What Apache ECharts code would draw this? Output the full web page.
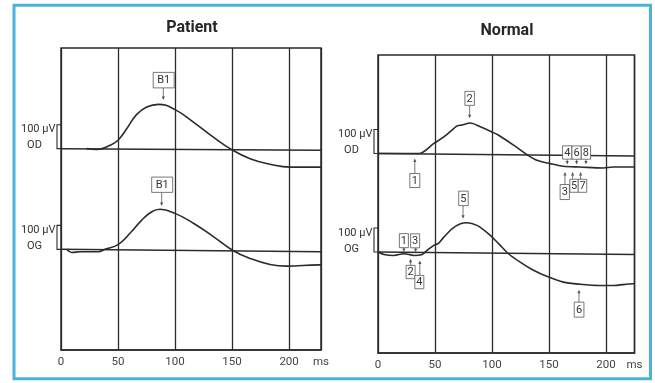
<!DOCTYPE html>
<html>
<head>
<meta charset="utf-8">
<script src="https://cdn.jsdelivr.net/npm/echarts@6/dist/echarts.min.js"></script>
<style>
  html, body { margin: 0; padding: 0; background: #ffffff; }
  #chart { width: 655px; height: 383px; }
</style>
</head>
<body>
<div id="chart"></div>
<script>
// ---- time axis ----
const timeTicks = [0, 50, 100, 150, 200];
const timeUnit = 'ms';
const ampScale = 100;          // µV calibration bar
const ampLabel = '100 µV';

// ---- Patient recordings: [ms, µV] relative to each trace's baseline ----
const patientOD = [
  [22.5, 0], [31.3, -3], [43, 14], [50, 35], [57.6, 83], [66.4, 143], [75.2, 174],
  [85.4, 185], [100, 163], [116.1, 111], [133.6, 48], [149.7, -4], [165.8, -42],
  [183.3, -65], [200.9, -77], [225.7, -77], [228, -77]
];
const patientOG = [
  [5, 0], [9.4, -13], [16.7, -10], [25.4, -10], [32.7, -10], [38.6, 0], [50.3, 21],
  [60.5, 67], [70.8, 122], [79.6, 157], [86.8, 167], [100, 150], [116.1, 109],
  [133.6, 53], [151.1, -6], [165.8, -38], [183.3, -63], [198, -70], [225.7, -65], [228, -65]
];
const patientBaseOD = [[0, 0], [228, -7]];
const patientBaseOG = [[0, 0], [228, -10]];

// ---- Normal recordings ----
const normalOD = [
  [0, 0], [35.8, 0], [49, 42], [57.7, 69], [66.4, 104], [69.3, 115], [73.7, 119],
  [81, 127], [89.8, 111], [99.9, 90], [105.8, 76], [118.9, 35], [130.5, -4],
  [139.3, -28], [151, -42], [162.6, -53], [177.2, -56], [197.6, -60], [206.3, -56],
  [223.8, -56], [225, -56]
];
const normalOG = [
  [0, 0], [5.2, -10], [14, -14], [22.7, -7], [31.5, -14], [38.7, -10], [43.1, 7],
  [49, 28], [53.3, 37], [57.7, 62], [64.9, 97], [72.3, 118], [78.1, 122], [86.8, 111],
  [97, 76], [105.8, 35], [114.5, -7], [124.7, -42], [136.4, -76], [148, -101],
  [162.6, -125], [177.2, -134], [194.7, -139], [206.3, -139], [223.8, -132], [225, -132]
];
const normalBaseOD = [[0, 0], [225, -10]];
const normalBaseOG = [[0, 0], [225, -10]];

// ---- peak markers: [label, trace, ms] ----
const patientMarks = [['B1', 'OD', 89.7], ['B1', 'OG', 88.3]];
const normalMarks = [
  ['1', 'OD', 32.3], ['2', 'OD', 80.4], ['4', 'OD', 166], ['6', 'OD', 174.2], ['8', 'OD', 182.4],
  ['3', 'OD', 164], ['5', 'OD', 170.7], ['7', 'OD', 177.7],
  ['1', 'OG', 22.7], ['3', 'OG', 33], ['2', 'OG', 28.6], ['4', 'OG', 36.7],
  ['5', 'OG', 74.6], ['6', 'OG', 176.3]
];

// marker box / arrow placement (pixels), same order as the marker lists
const patientMarkLayout = [
  { side: 'above', gap: 6, len: 12, dx: 0.4, w: 21, h: 15.5 },
  { side: 'above', gap: 3.7, len: 13.7, dx: 0.5, w: 21, h: 15.3 }
];
const normalMarkLayout = [
  { side: 'below', gap: 5, len: 15, dx: 0, w: 10, h: 14 },
  { side: 'above', gap: 4.8, len: 13, dx: 0, w: 9.5, h: 14 },
  { side: 'above', gap: 2, len: 5.3, dx: 0, w: 9.3, h: 13.3 },
  { side: 'above', gap: 2.3, len: 5.3, dx: 0, w: 9.3, h: 13.3 },
  { side: 'above', gap: 2.7, len: 5.3, dx: 0, w: 9.3, h: 13.3 },
  { side: 'below', gap: 5.6, len: 12.6, dx: -0.2, w: 9.3, h: 15 },
  { side: 'below', gap: 5.3, len: 7.3, dx: 1.5, w: 8.5, h: 13 },
  { side: 'below', gap: 5, len: 7.3, dx: 1.9, w: 8.5, h: 13 },
  { side: 'above', gap: 1.7, len: 4.4, dx: 0, w: 9, h: 14 },
  { side: 'above', gap: 3, len: 4.4, dx: -0.5, w: 9, h: 14 },
  { side: 'below', gap: 3.8, len: 6.7, dx: 0, w: 9, h: 13.3 },
  { side: 'below', gap: 5.7, len: 15, dx: -0.5, w: 9, h: 13.3 },
  { side: 'above', gap: 4.7, len: 13, dx: 0.4, w: 9.5, h: 14.5 },
  { side: 'below', gap: 5.6, len: 12.4, dx: 0.1, w: 9.7, h: 15 }
];

const INK = '#2b2b2b';
const FONT = 'Roboto, "DejaVu Sans", sans-serif';

const panels = [
  {
    title: 'Patient', titleX: 192, titleTop: 19.5,
    traces: { OD: patientOD, OG: patientOG },
    bases: { OD: patientBaseOD, OG: patientBaseOG },
    marks: patientMarks, markLayout: patientMarkLayout,
    xMax: 228, yMin: -420, yMax: 840, offsets: { OD: 420, OG: 0 },
    grid: { left: 61, top: 48, width: 260, height: 302 }, smooth: 0.45
  },
  {
    title: 'Normal', titleX: 507, titleTop: 22.5,
    traces: { OD: normalOD, OG: normalOG },
    bases: { OD: normalBaseOD, OG: normalBaseOG },
    marks: normalMarks, markLayout: normalMarkLayout,
    xMax: 225, yMin: -420, yMax: 820, offsets: { OD: 410, OG: 0 },
    grid: { left: 378, top: 55, width: 256.5, height: 298 }, smooth: 0.3
  }
];

function valueAt(trace, t) {
  if (t <= trace[0][0]) return trace[0][1];
  for (let i = 1; i < trace.length; i++) {
    if (t <= trace[i][0]) {
      const [t0, v0] = trace[i - 1];
      const [t1, v1] = trace[i];
      return v0 + (v1 - v0) * (t - t0) / (t1 - t0);
    }
  }
  return trace[trace.length - 1][1];
}

const grids = [], xAxes = [], yAxes = [], series = [], titles = [];

panels.forEach((p, idx) => {
  grids.push(Object.assign({
    show: true, borderColor: INK, borderWidth: 1.5, backgroundColor: '#ffffff', containLabel: false
  }, p.grid));
  titles.push({
    text: p.title, left: p.titleX, top: p.titleTop, textAlign: 'center', padding: 0,
    textStyle: { fontFamily: FONT, fontSize: 16, fontWeight: 'bold', color: '#262626' }
  });
  xAxes.push({
    type: 'value', gridIndex: idx, min: 0, max: p.xMax, interval: 50,
    axisLine: { show: true, onZero: false, lineStyle: { color: INK, width: 1.5 } },
    axisTick: { show: false },
    splitLine: { show: true, lineStyle: { color: INK, width: 1.3 } },
    axisLabel: {
      margin: 6, color: '#444', fontSize: 11.5, fontFamily: FONT,
      formatter: v => (timeTicks.indexOf(v) >= 0 ? String(v) : '')
    },
    name: timeUnit, nameLocation: 'end', nameGap: 0,
    nameTextStyle: {
      align: 'center', verticalAlign: 'top', padding: [6, 0, 0, 0],
      color: '#444', fontSize: 11.5, fontFamily: FONT
    }
  });
  yAxes.push({
    type: 'value', gridIndex: idx, min: p.yMin, max: p.yMax, show: false,
    splitLine: { show: false }
  });

  ['OD', 'OG'].forEach(name => {
    const off = p.offsets[name];
    series.push({
      type: 'line', xAxisIndex: idx, yAxisIndex: idx, silent: true, symbol: 'none', z: 2,
      data: p.bases[name].map(([t, v]) => [t, v + off]),
      lineStyle: { color: '#2e2933', width: 1.5 }
    });
    series.push({
      type: 'line', xAxisIndex: idx, yAxisIndex: idx, silent: true, symbol: 'none', z: 3,
      smooth: p.smooth,
      data: p.traces[name].map(([t, v]) => [t, v + off]),
      lineStyle: { color: INK, width: 1.6 }
    });
  });

  // calibration brackets with trace names
  series.push({
    type: 'custom', xAxisIndex: idx, yAxisIndex: idx, clip: false, silent: true, z: 4,
    data: ['OD', 'OG'].map(n => [0, p.offsets[n], p.offsets[n] + ampScale]),
    renderItem(params, api) {
      const name = ['OD', 'OG'][params.dataIndex];
      const b = api.coord([api.value(0), api.value(1)]);
      const t = api.coord([api.value(0), api.value(2)]);
      const bx = b[0] - 4;
      return {
        type: 'group',
        children: [
          {
            type: 'polyline',
            shape: { points: [[b[0], t[1]], [bx, t[1]], [bx, b[1]], [b[0], b[1]]] },
            style: { stroke: INK, lineWidth: 1.1, fill: null }
          },
          {
            type: 'text',
            style: {
              text: ampLabel, x: bx - 1.5, y: t[1] + 5, align: 'right', verticalAlign: 'middle',
              fontSize: 11, fontFamily: FONT, fill: '#333'
            }
          },
          {
            type: 'text',
            style: {
              text: name, x: bx - 22.5, y: b[1] - 3, align: 'center', verticalAlign: 'middle',
              fontSize: 11, fontFamily: FONT, fill: '#333'
            }
          }
        ]
      };
    }
  });

  // labelled markers with arrows
  series.push({
    type: 'custom', xAxisIndex: idx, yAxisIndex: idx, clip: false, silent: true, z: 6,
    data: p.marks.map(m => [m[2], valueAt(p.traces[m[1]], m[2]) + p.offsets[m[1]]]),
    renderItem(params, api) {
      const m = p.marks[params.dataIndex];
      const L = p.markLayout[params.dataIndex];
      const pt = api.coord([api.value(0), api.value(1)]);
      const x = pt[0];
      const dir = L.side === 'above' ? -1 : 1;
      const tipY = pt[1] + dir * L.gap;
      const tailY = tipY + dir * L.len;
      const boxY = L.side === 'above' ? tailY - L.h : tailY;
      const bx = x + L.dx - L.w / 2;
      return {
        type: 'group',
        children: [
          {
            type: 'line',
            shape: { x1: x, y1: tailY, x2: x, y2: tipY + dir * 2 },
            style: { stroke: '#555', lineWidth: 0.8 }
          },
          {
            type: 'polygon',
            shape: { points: [[x, tipY], [x - 1.6, tipY + dir * 3.5], [x + 1.6, tipY + dir * 3.5]] },
            style: { fill: '#555' }
          },
          {
            type: 'rect',
            shape: { x: bx, y: boxY, width: L.w, height: L.h },
            style: { fill: '#ffffff', stroke: '#555', lineWidth: 0.8 }
          },
          {
            type: 'text',
            style: {
              text: m[0], x: bx + L.w / 2, y: boxY + L.h / 2 + 0.5, align: 'center',
              verticalAlign: 'middle', fontSize: 11, fontFamily: FONT, fill: '#333'
            }
          }
        ]
      };
    }
  });
});

const chart = echarts.init(document.getElementById('chart'), null, { renderer: 'canvas' });
chart.setOption({
  animation: false,
  backgroundColor: '#ffffff',
  title: titles,
  grid: grids,
  xAxis: xAxes,
  yAxis: yAxes,
  series: series,
  graphic: [{
    type: 'rect', silent: true, z: 100,
    shape: { x: 14, y: 5.3, width: 636.5, height: 373.5 },
    style: { fill: null, stroke: '#48b4de', lineWidth: 3 }
  }]
});
</script>
</body>
</html>
